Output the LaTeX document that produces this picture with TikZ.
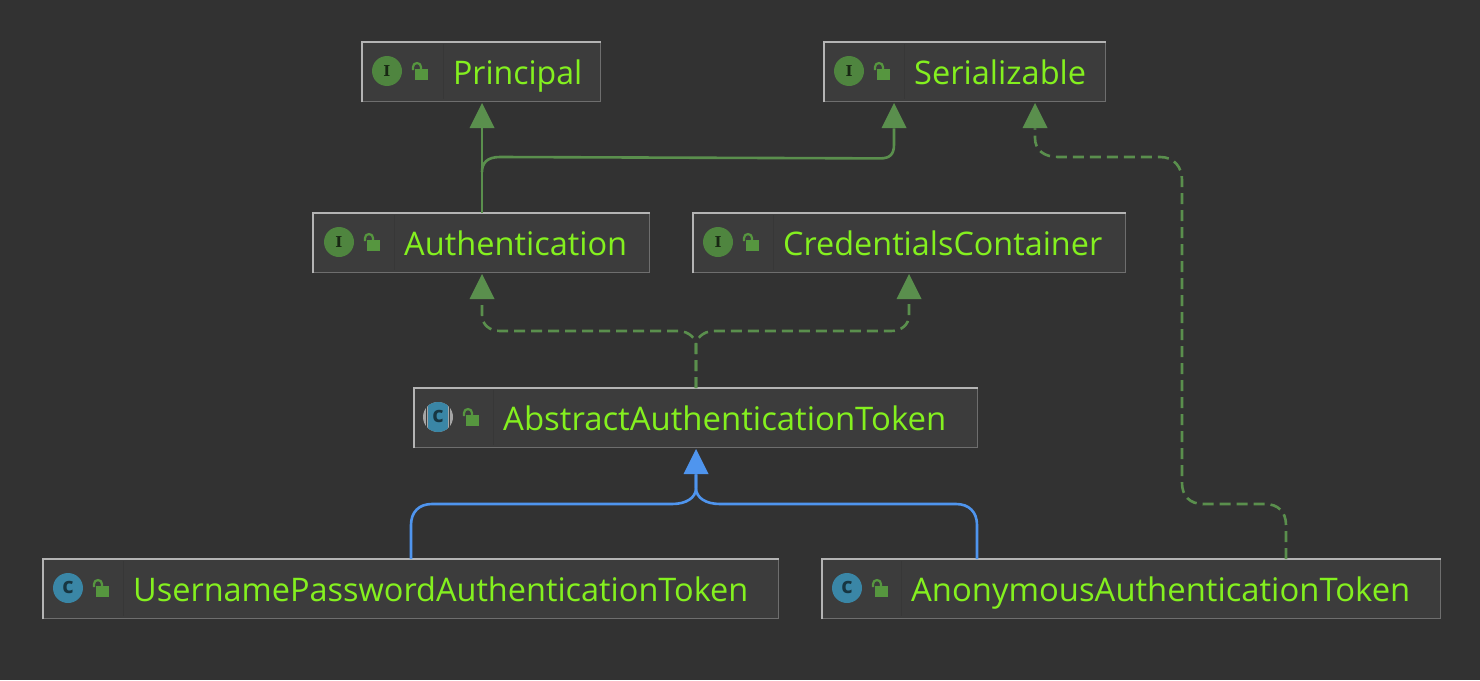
\documentclass[tikz,border=0pt]{standalone}
\usepackage{fontspec}
\usepackage{graphicx}
\setmainfont{Open Sans}
\newfontfamily\iconfont{DejaVu Serif}[Scale=1]
\usetikzlibrary{calc}
\definecolor{bgc}{HTML}{323232}
\definecolor{boxc}{HTML}{3C3C3C}
\definecolor{edgel}{HTML}{B4B4B4}
\definecolor{edged}{HTML}{6E6E6E}
\definecolor{txtc}{HTML}{84F01F}
\definecolor{grn}{HTML}{5A8F4D}
\definecolor{icog}{HTML}{4F853F}
\definecolor{icot}{HTML}{3A86A6}
\definecolor{lockc}{HTML}{56963F}
\definecolor{bluec}{HTML}{4F95EE}
\tikzset{
  x=1pt,y=-1pt,
  umlbox/.style={draw=edged,fill=boxc,line width=1.4pt,inner sep=0pt,anchor=north west},
  umltext/.style={text=txtc,anchor=base west,inner sep=0pt,font=\fontsize{32.5}{36}\selectfont},
  ifaceline/.style={draw=grn,line width=2.6pt},
  impl/.style={ifaceline,dash pattern=on 11pt off 6pt},
  extline/.style={draw=bluec,line width=2.6pt},
  tipg/.style={fill=grn,draw=none},
  tipb/.style={fill=bluec,draw=none},
}
\newcommand{\fitw}[2]{\resizebox{#1pt}{\height}{#2}}
% name, x0, y0, x1, y1, kind, icon x, text x, text
\newcommand{\umlnode}[9]{%
  \node[umlbox,minimum width=#4pt-#2pt,minimum height=#5pt-#3pt] (#1) at (#2,#3) {};
  \draw[edgel,line width=1.4pt] (#1.south west) -- (#1.north west) -- (#1.north east);
  \draw[black!8!boxc,line width=.6pt] (#8-10,#3+2) -- (#8-10,#5-2);
  \ifnum#6=0
    \fill[icog] (#7,#3+29) circle (15);
    \node[inner sep=0pt,text=black!70!icog,font=\iconfont\bfseries\fontsize{15}{15}\selectfont] (#1icon) at (#7,#3+29) {I};
  \else
    \ifnum#6=1
      \fill[gray!70] (#7,#3+29) circle (15);
      \begin{scope}
        \clip (#7,#3+29) circle (15);
        \fill[icot] (#7-10,#3+14) rectangle (#7+10,#3+44);
      \end{scope}
      \draw[boxc] (#7-11.5,#3+15) -- (#7-11.5,#3+43) (#7+11.5,#3+15) -- (#7+11.5,#3+43);
    \else
      \fill[icot] (#7,#3+29) circle (15);
    \fi
    \node[inner sep=0pt,text=black!60!icot,font=\bfseries\fontsize{22}{22}\selectfont] (#1icon) at (#7,#3+28) {c};
  \fi
  \fill[lockc] (#7+28,#3+27) rectangle (#7+41,#3+38);
  \draw[lockc,line width=2.2pt] (#7+26,#3+28) -- (#7+26,#3+25) arc[start angle=180,end angle=0,x radius=4,y radius=-4] -- (#7+34,#3+27);
  \node[umltext] (#1text) at (#8,#3+42.5) {#9};
}
\newcommand{\uptip}[3]{\fill[#3] (#1,#2) -- (#1+12.5,#2+25) -- (#1-12.5,#2+25) -- cycle;}
\begin{document}
\begin{tikzpicture}
\useasboundingbox (0,0) rectangle (1480,680);
\fill[bgc] (0,0) rectangle (1480,680);
\umlnode{prin}{362}{42}{600}{101}{0}{387}{453}{\fitw{129}{Principal}}
\umlnode{seri}{824}{42}{1105}{101}{0}{849}{914}{\fitw{172}{Serializable}}
\umlnode{auth}{313}{213}{649}{272}{0}{339}{404}{\fitw{223}{Authentication}}
\umlnode{cred}{693}{213}{1125}{272}{0}{718}{783}{\fitw{319}{CredentialsContainer}}
\umlnode{abst}{414}{388}{977}{447}{1}{438}{503}{\fitw{443}{AbstractAuthenticationToken}}
\umlnode{user}{43}{559}{778}{618}{2}{68}{133}{\fitw{615}{UsernamePasswordAuthenticationToken}}
\umlnode{anon}{822}{559}{1440}{618}{2}{847}{911}{\fitw{499}{AnonymousAuthenticationToken}}
% anchors on box edges
\coordinate (pS) at ($(prin.south west)+(120,2)$);
\coordinate (sS) at ($(seri.south west)+(70,2)$);
\coordinate (sS2) at ($(seri.south west)+(211,2)$);
\coordinate (aN) at ($(auth.north west)+(169,0)$);
\coordinate (aS) at ($(auth.south west)+(169,2)$);
\coordinate (cS) at ($(cred.south west)+(216,2)$);
\coordinate (bN) at ($(abst.north west)+(282,0)$);
\coordinate (bS) at ($(abst.south west)+(282,2)$);
\coordinate (uN) at ($(user.north west)+(368,0)$);
\coordinate (nN) at ($(anon.north west)+(155,0)$);
\coordinate (nN2) at ($(anon.north west)+(464,0)$);
% solid green
\draw[ifaceline] (aN) -- ($(pS)+(0,24)$);
\draw[ifaceline] ($(aN)+(0,-41)$) .. controls ($(aN)+(0,-50)$) and ($(aN)+(5,-56)$) .. ($(aN)+(18,-56)$) -- ($(sS)+(-14,54)$) .. controls ($(sS)+(-4,54)$) and ($(sS)+(0,50)$) .. ($(sS)+(0,40)$) -- ($(sS)+(0,24)$);
\uptip{482}{103}{tipg}
\uptip{894}{103}{tipg}
% dashed to Serializable
\draw[impl] (nN2) -- ($(nN2)+(0,-34)$) .. controls ($(nN2)+(0,-47)$) and ($(nN2)+(-8,-55)$) .. ($(nN2)+(-21,-55)$) -- ($(nN2)+(-83,-55)$) .. controls ($(nN2)+(-96,-55)$) and ($(nN2)+(-104,-63)$) .. ($(nN2)+(-104,-76)$) -- (1182,180) .. controls (1182,167) and (1174,157) .. (1160,157) -- (1058,157) .. controls (1044,157) and (1035,150) .. (1035,138) -- ($(sS2)+(0,24)$);
\uptip{1035}{103}{tipg}
% dashed from abstract
\draw[impl] (bN) -- ($(bN)+(0,-44)$) .. controls ($(bN)+(0,-48)$) and ($(bN)+(-6,-57)$) .. ($(bN)+(-18,-57)$) -- (500,331) .. controls (490,331) and (482,325) .. (482,315) -- ($(aS)+(0,24)$);
\draw[impl] (bN) -- ($(bN)+(0,-44)$) .. controls ($(bN)+(0,-48)$) and ($(bN)+(6,-57)$) .. ($(bN)+(18,-57)$) -- (891,331) .. controls (901,331) and (909,325) .. (909,315) -- ($(cS)+(0,24)$);
\uptip{482}{274}{tipg}
\uptip{909}{274}{tipg}
% blue
\draw[extline] (uN) -- ($(uN)+(0,-34)$) .. controls ($(uN)+(0,-47)$) and ($(uN)+(8,-55)$) .. ($(uN)+(21,-55)$) -- (672,504) .. controls (686,504) and (696,498) .. (696,488) -- ($(bS)+(0,24)$);
\draw[extline] (nN) -- ($(nN)+(0,-34)$) .. controls ($(nN)+(0,-47)$) and ($(nN)+(-8,-55)$) .. ($(nN)+(-21,-55)$) -- (720,504) .. controls (706,504) and (696,498) .. (696,488) -- ($(bS)+(0,24)$);
\uptip{696}{449}{tipb}
\end{tikzpicture}
\end{document}
